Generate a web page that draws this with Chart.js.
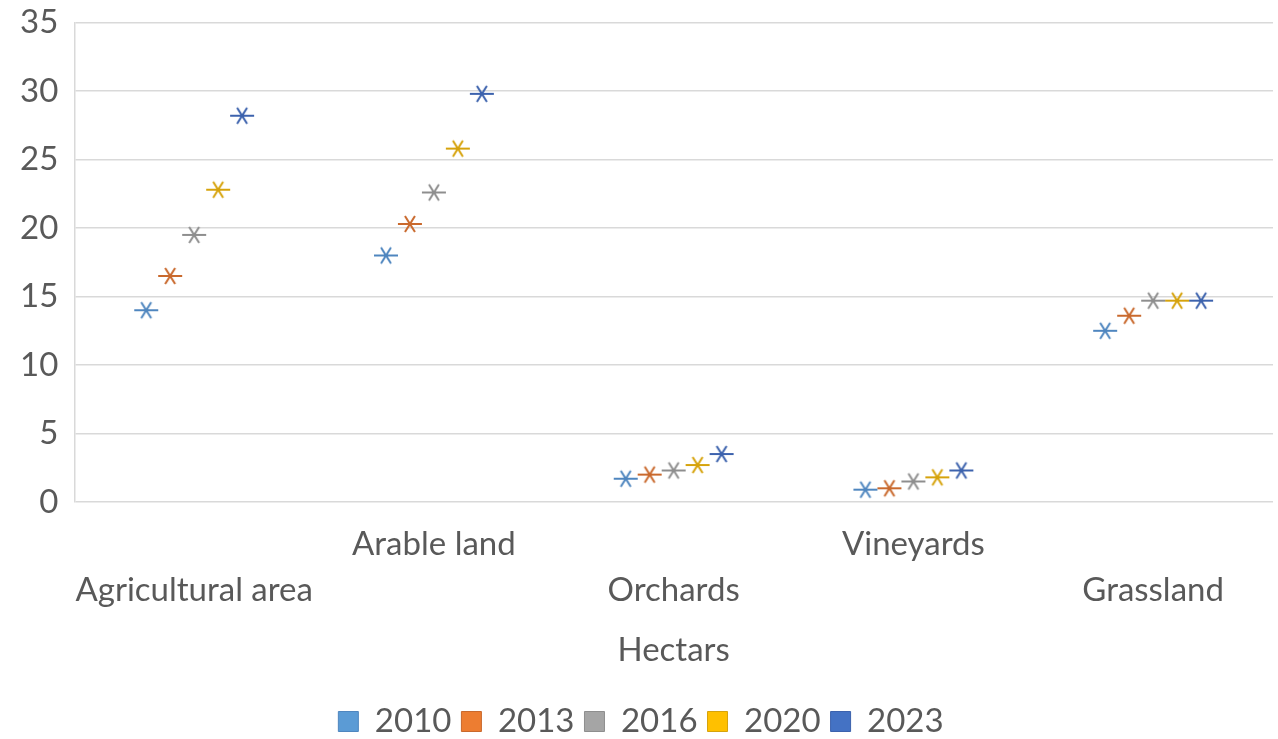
<!DOCTYPE html>
<html>
<head>
<meta charset="utf-8">
<script src="https://cdn.jsdelivr.net/npm/chart.js@4.4.1/dist/chart.umd.min.js"></script>
<style>
  html, body { margin: 0; padding: 0; background: #fff; }
  #wrap { width: 1278px; height: 739px; position: relative; }
</style>
</head>
<body>
<div id="wrap"><canvas id="chart"></canvas></div>
<script>
// categories and series
const categories = ['Agricultural area', 'Arable land', 'Orchards', 'Vineyards', 'Grassland'];
const years = ['2010', '2013', '2016', '2020', '2023'];
const v2010 = [14.0, 18.0, 1.7, 0.9, 12.5];
const v2013 = [16.5, 20.3, 2.0, 1.0, 13.6];
const v2016 = [19.5, 22.6, 2.3, 1.5, 14.7];
const v2020 = [22.8, 25.8, 2.7, 1.8, 14.7];
const v2023 = [28.2, 29.8, 3.5, 2.3, 14.7];
const yTicks = [0, 5, 10, 15, 20, 25, 30, 35];

const seriesValues = [v2010, v2013, v2016, v2020, v2023];
const fillColors = ['#5b9bd5', '#ed7d31', '#a5a5a5', '#ffc000', '#4472c4'];
const lineColors = ['#4f86bf', '#c9692d', '#8e8e8e', '#d6a30c', '#3c62ad'];
const FONT = 'Lato, "Open Sans", sans-serif';
const TXT = '#595959';

// excel-like star marker: horizontal bar plus an X
function starMarker(color) {
    const c = document.createElement('canvas');
    c.width = 26; c.height = 20;
    const g = c.getContext('2d');
    g.strokeStyle = color; g.lineWidth = 2; g.lineCap = 'butt';
    g.beginPath();
    g.moveTo(1, 10); g.lineTo(25, 10);
    g.moveTo(8, 2); g.lineTo(18, 18);
    g.moveTo(18, 2); g.lineTo(8, 18);
    g.stroke();
    return c;
}

const datasets = years.map((yr, s) => ({
    label: yr,
    data: seriesValues[s].map((v, i) => ({ x: i + (s - 2) * 0.1, y: v })),
    pointStyle: starMarker(lineColors[s]),
    backgroundColor: fillColors[s],
    borderColor: lineColors[s],
    borderWidth: 1,
    showLine: false
}));

new Chart(document.getElementById('chart'), {
    type: 'scatter',
    data: { datasets },
    options: {
        responsive: true,
        maintainAspectRatio: false,
        animation: false,
        layout: { padding: { top: 0, right: 0, left: 4, bottom: -9 } },
        plugins: {
            tooltip: { enabled: false },
            legend: {
                position: 'bottom',
                labels: {
                    color: TXT,
                    font: { family: FONT, size: 33 },
                    boxWidth: 20, boxHeight: 20, padding: 10,
                    generateLabels: (chart) => chart.data.datasets.map((d, i) => ({
                        text: d.label, fillStyle: fillColors[i], strokeStyle: lineColors[i],
                        lineWidth: 1, fontColor: TXT, datasetIndex: i
                    }))
                }
            }
        },
        scales: {
            x: {
                type: 'linear', min: -0.5, max: 4.5,
                afterBuildTicks: (axis) => { axis.ticks = categories.map((_, i) => ({ value: i })); },
                grid: { display: false },
                border: { display: false },
                ticks: {
                    color: TXT, font: { family: FONT, size: 33, lineHeight: 1.4 },
                    maxRotation: 0, autoSkip: false, padding: 11,
                    callback: (v) => (v % 2 === 0 ? ['', categories[v]] : [categories[v]])
                },
                title: {
                    display: true, text: 'Hectars', color: TXT,
                    font: { family: FONT, size: 33 }, padding: { top: 6, bottom: 25 }
                }
            },
            y: {
                min: 0, max: 35,
                afterBuildTicks: (axis) => { axis.ticks = yTicks.map(v => ({ value: v })); },
                grid: { color: '#d9d9d9', lineWidth: 1.5, drawTicks: false },
                border: { display: true, color: '#d9d9d9', width: 1.5 },
                ticks: { color: TXT, font: { family: FONT, size: 33, lineHeight: 0.4 }, padding: 16 }
            }
        }
    }
});
</script>
</body>
</html>
